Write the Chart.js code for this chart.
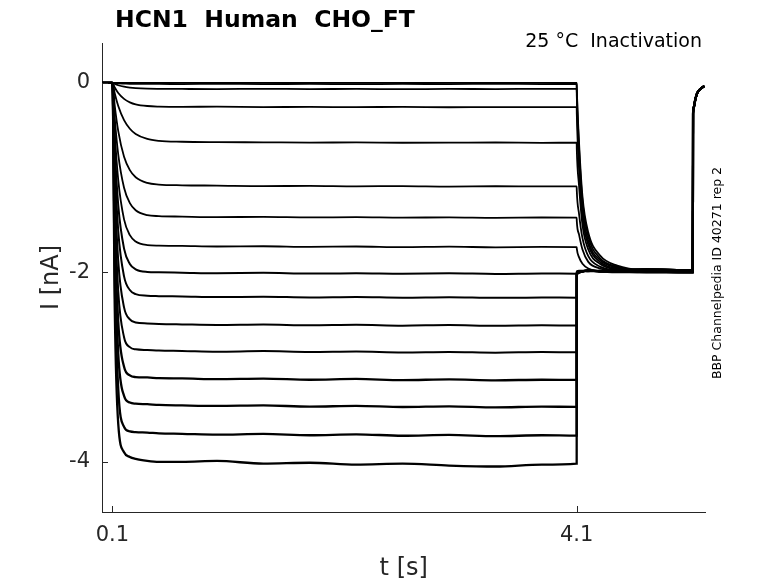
<!DOCTYPE html>
<html>
<head>
<meta charset="utf-8">
<title>HCN1 Human CHO_FT</title>
<script src="https://cdn.jsdelivr.net/npm/chart.js@4.4.1/dist/chart.umd.min.js"></script>
<style>
  html, body { margin: 0; padding: 0; background: #fff; }
  #wrap { width: 778px; height: 583px; }
</style>
</head>
<body>
<div id="wrap"><canvas id="traceChart" width="778" height="583"></canvas></div>
<script>
// Sample times [s] shared by all sweeps
const tSample = [0.01, 0.1, 0.12, 0.15, 0.2, 0.25, 0.3, 0.4, 0.5, 0.7, 1.0, 1.4, 1.8, 2.2, 2.6, 3.0, 3.4, 3.8,
                 4.1, 4.101, 4.12, 4.15, 4.2, 4.3, 4.45, 4.7, 5.1, 5.103, 5.11, 5.12, 5.135, 5.15, 5.175, 5.2];

// Current [nA] of each sweep at tSample
const sweep1  = [0, 0, 0, 0, 0, 0, 0, 0, 0, 0, 0, 0, 0, 0, 0, 0, 0, 0, 0, -0.06, -0.62, -1.2, -1.58, -1.82, -1.93, -1.98, -1.99, -0.33, -0.26, -0.19, -0.12, -0.085, -0.055, -0.035];
const sweep2  = [0, 0, -0.004, -0.007, -0.009, -0.011, -0.012, -0.012, -0.012, -0.013, -0.011, -0.013, -0.012, -0.014, -0.012, -0.013, -0.011, -0.013, -0.012, -0.08, -0.68, -1.25, -1.62, -1.85, -1.94, -1.99, -2.0, -0.33, -0.26, -0.19, -0.12, -0.085, -0.055, -0.035];
const sweep3  = [0, 0, -0.012, -0.026, -0.041, -0.05, -0.056, -0.062, -0.064, -0.065, -0.066, -0.064, -0.066, -0.065, -0.067, -0.065, -0.066, -0.064, -0.065, -0.14, -0.78, -1.33, -1.67, -1.87, -1.95, -1.99, -2.0, -0.32, -0.25, -0.19, -0.12, -0.085, -0.055, -0.035];
const sweep4  = [0, 0, -0.05, -0.108, -0.17, -0.206, -0.227, -0.245, -0.251, -0.254, -0.252, -0.256, -0.255, -0.257, -0.254, -0.258, -0.256, -0.257, -0.256, -0.33, -0.9, -1.41, -1.71, -1.89, -1.96, -1.99, -2.0, -0.33, -0.26, -0.19, -0.12, -0.085, -0.055, -0.035];
const sweep5  = [0, 0, -0.113, -0.245, -0.394, -0.485, -0.54, -0.593, -0.613, -0.622, -0.626, -0.628, -0.631, -0.629, -0.633, -0.632, -0.63, -0.634, -0.632, -0.7, -1.08, -1.5, -1.76, -1.91, -1.97, -1.99, -2.0, -0.32, -0.25, -0.19, -0.12, -0.085, -0.055, -0.035];
const sweep6  = [0, 0, -0.244, -0.511, -0.781, -0.922, -0.997, -1.057, -1.074, -1.082, -1.085, -1.09, -1.088, -1.093, -1.09, -1.095, -1.092, -1.094, -1.093, -1.14, -1.38, -1.64, -1.83, -1.94, -1.98, -2.0, -2.0, -0.33, -0.26, -0.19, -0.12, -0.085, -0.055, -0.035];
const sweep7  = [0, 0, -0.374, -0.757, -1.107, -1.27, -1.345, -1.396, -1.407, -1.412, -1.418, -1.415, -1.421, -1.418, -1.424, -1.42, -1.425, -1.422, -1.424, -1.46, -1.6, -1.76, -1.89, -1.96, -1.99, -2.0, -2.0, -0.32, -0.25, -0.19, -0.12, -0.085, -0.055, -0.035];
const sweep8  = [0, 0, -0.525, -1.027, -1.441, -1.608, -1.675, -1.713, -1.719, -1.722, -1.728, -1.725, -1.732, -1.728, -1.735, -1.73, -1.736, -1.732, -1.734, -1.75, -1.84, -1.91, -1.96, -1.99, -2.0, -2.0, -2.0, -0.33, -0.26, -0.19, -0.12, -0.085, -0.055, -0.035];
const sweep9  = [0, 0, -0.682, -1.294, -1.75, -1.912, -1.968, -1.996, -2.0, -2.004, -2.01, -2.006, -2.014, -2.009, -2.015, -2.011, -2.017, -2.012, -2.015, -1.99, -1.985, -1.985, -1.99, -1.99, -1.98, -1.99, -1.99, -0.32, -0.25, -0.19, -0.12, -0.085, -0.055, -0.035];
const sweep10 = [0, 0, -0.853, -1.566, -2.043, -2.187, -2.23, -2.248, -2.252, -2.255, -2.262, -2.258, -2.266, -2.26, -2.268, -2.263, -2.27, -2.265, -2.268, -2.0, -1.99, -1.99, -1.98, -1.99, -1.98, -1.99, -1.98, -0.33, -0.26, -0.19, -0.12, -0.085, -0.055, -0.035];
const sweep11 = [0, 0, -1.062, -1.882, -2.37, -2.497, -2.53, -2.54, -2.545, -2.55, -2.556, -2.551, -2.56, -2.554, -2.563, -2.557, -2.565, -2.559, -2.562, -2.01, -2.0, -1.99, -1.99, -1.98, -1.99, -1.98, -1.99, -0.32, -0.25, -0.19, -0.12, -0.085, -0.055, -0.035];
const sweep12 = [0, 0, -1.283, -2.2, -2.685, -2.79, -2.813, -2.82, -2.826, -2.83, -2.838, -2.832, -2.842, -2.836, -2.846, -2.84, -2.848, -2.842, -2.845, -2.02, -2.0, -1.99, -1.98, -1.99, -1.98, -1.99, -1.98, -0.33, -0.26, -0.19, -0.12, -0.085, -0.055, -0.035];
const sweep13 = [0, 0, -1.515, -2.522, -2.998, -3.088, -3.106, -3.11, -3.118, -3.12, -3.128, -3.122, -3.134, -3.126, -3.138, -3.13, -3.14, -3.134, -3.136, -2.02, -2.0, -1.99, -1.98, -1.99, -1.98, -1.97, -1.98, -0.32, -0.25, -0.19, -0.12, -0.085, -0.055, -0.035];
const sweep14 = [0, 0, -1.773, -2.858, -3.305, -3.375, -3.387, -3.392, -3.4, -3.405, -3.41, -3.404, -3.418, -3.41, -3.422, -3.415, -3.426, -3.418, -3.42, -2.02, -2.0, -1.99, -1.98, -1.99, -1.98, -1.97, -1.98, -0.33, -0.26, -0.19, -0.12, -0.085, -0.055, -0.035];
const sweep15 = [0, 0, -2.085, -3.229, -3.631, -3.68, -3.688, -3.692, -3.7, -3.705, -3.714, -3.706, -3.72, -3.71, -3.725, -3.716, -3.73, -3.72, -3.724, -2.03, -2.0, -1.99, -1.98, -1.99, -1.98, -1.97, -1.98, -0.32, -0.25, -0.19, -0.12, -0.085, -0.055, -0.035];
const sweep16 = [0, 0, -2.39, -3.6, -3.9, -3.95, -3.97, -3.99, -4.0, -4.0, -3.99, -4.02, -4.01, -4.03, -4.02, -4.04, -4.05, -4.03, -4.02, -2.03, -2.0, -1.99, -1.98, -1.99, -1.98, -1.97, -1.98, -0.33, -0.26, -0.19, -0.12, -0.085, -0.055, -0.035];

const sweeps = [sweep1, sweep2, sweep3, sweep4, sweep5, sweep6, sweep7, sweep8,
                sweep9, sweep10, sweep11, sweep12, sweep13, sweep14, sweep15, sweep16];

// Tick labels
const xTicks = [0.1, 4.1];
const yTicks = [-4, -2, 0];

const axisColor = '#262626';
const fontFamily = '"DejaVu Sans", sans-serif';

// Inward tick marks (MATLAB style) and the free text labels
const decorPlugin = {
    id: 'decor',
    afterDraw(chart) {
        const ctx = chart.ctx;
        const xs = chart.scales.x;
        const ys = chart.scales.y;
        const area = chart.chartArea;
        ctx.save();
        ctx.strokeStyle = axisColor;
        ctx.lineWidth = 1;
        xTicks.forEach(v => {
            const px = Math.round(xs.getPixelForValue(v)) + 0.5;
            ctx.beginPath();
            ctx.moveTo(px, area.bottom);
            ctx.lineTo(px, area.bottom - 6);
            ctx.stroke();
        });
        yTicks.forEach(v => {
            const py = Math.round(ys.getPixelForValue(v)) + 0.5;
            ctx.beginPath();
            ctx.moveTo(area.left, py);
            ctx.lineTo(area.left + 6, py);
            ctx.stroke();
        });

        ctx.fillStyle = '#000';
        ctx.textBaseline = 'alphabetic';
        ctx.font = 'bold 23.5px ' + fontFamily;
        ctx.textAlign = 'left';
        ctx.fillText('HCN1  Human  CHO_FT', 115, 27);

        ctx.font = '19px ' + fontFamily;
        ctx.textAlign = 'right';
        ctx.fillText('25 °C  Inactivation', 702, 47);

        ctx.translate(718, 273);
        ctx.rotate(-Math.PI / 2);
        ctx.font = '12.5px ' + fontFamily;
        ctx.textAlign = 'center';
        ctx.textBaseline = 'middle';
        ctx.fillText('BBP Channelpedia ID 40271 rep 2', 0, 0);
        ctx.restore();
    }
};

const datasets = sweeps.map((sweep, i) => ({
    data: sweep.map((v, k) => ({ x: tSample[k], y: v })),
    borderColor: '#000',
    borderWidth: i < 8 ? 1.8 : (i < 12 ? 2 : 2.3),
    pointRadius: 0,
    fill: false,
    cubicInterpolationMode: 'monotone'
}));

new Chart(document.getElementById('traceChart'), {
    type: 'line',
    data: { datasets: datasets },
    options: {
        responsive: false,
        animation: false,
        devicePixelRatio: 1,
        layout: { padding: { left: 0, right: 72.5, top: 43, bottom: 0 } },
        plugins: {
            legend: { display: false },
            tooltip: { enabled: false },
            title: { display: false }
        },
        scales: {
            x: {
                type: 'linear',
                min: 0.01,
                max: 5.21,
                afterFit: scale => { scale.height = 71; },
                afterBuildTicks: scale => { scale.ticks = xTicks.map(v => ({ value: v })); },
                grid: { display: false, drawTicks: false },
                border: { display: true, color: axisColor, width: 1 },
                ticks: {
                    autoSkip: false,
                    maxRotation: 0,
                    padding: 11,
                    color: axisColor,
                    font: { family: fontFamily, size: 21 },
                    callback: v => v.toFixed(1)
                },
                title: {
                    display: true,
                    text: 't [s]',
                    color: axisColor,
                    font: { family: fontFamily, size: 24 },
                    padding: { top: 0, bottom: 0 }
                }
            },
            y: {
                type: 'linear',
                min: -4.53,
                max: 0.42,
                afterFit: scale => { scale.width = 102; },
                afterBuildTicks: scale => { scale.ticks = yTicks.map(v => ({ value: v })); },
                grid: { display: false, drawTicks: false },
                border: { display: true, color: axisColor, width: 1 },
                ticks: {
                    autoSkip: false,
                    padding: 12,
                    color: axisColor,
                    font: { family: fontFamily, size: 21 },
                    callback: v => String(v)
                },
                title: {
                    display: true,
                    text: 'I [nA]',
                    color: axisColor,
                    font: { family: fontFamily, size: 24 },
                    padding: { top: 37, bottom: 0 }
                }
            }
        }
    },
    plugins: [decorPlugin]
});
</script>
</body>
</html>
